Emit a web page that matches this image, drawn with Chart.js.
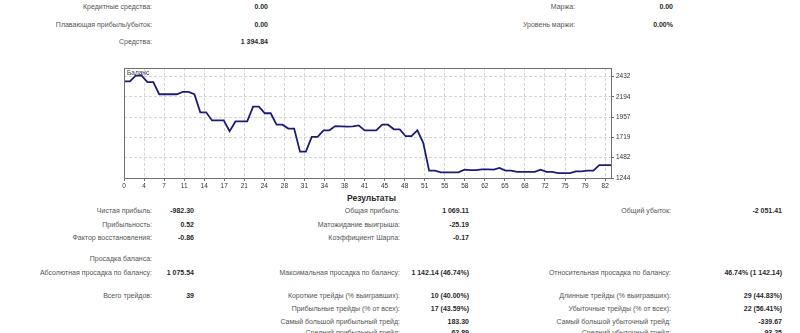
<!DOCTYPE html>
<html>
<head>
<meta charset="utf-8">
<script src="https://cdn.jsdelivr.net/npm/chart.js@4.4.0/dist/chart.umd.min.js"></script>
<style>
body{margin:0;width:800px;height:333px;background:#fff;position:relative;overflow:hidden;font-family:"Liberation Sans",Arial,sans-serif;}
.t{position:absolute;white-space:nowrap;font-size:7px;line-height:10px;color:#555;text-align:right;}
.v{font-weight:bold;color:#2a2a2a;}
.h{position:absolute;font-size:8.5px;font-weight:bold;color:#2a2a2a;line-height:10px;}
#box{position:absolute;left:120px;top:62px;width:520px;height:130px;}
</style>
</head>
<body>
<div id="box"><canvas id="myChart" width="520" height="130"></canvas></div>
<div class="h" style="left:347px;top:193px;">Результаты</div>
<script>
// balance curve, one value per trade
let balance = [2377, 2377, 2444, 2444, 2368, 2368, 2226, 2226, 2226, 2226,
  2253, 2253, 2226, 2014, 2014, 1919, 1919, 1919, 1792, 1907,
  1907, 1907, 2080, 2080, 2003, 2003, 1869, 1869, 1823, 1823,
  1553, 1553, 1726, 1726, 1803, 1803, 1853, 1849, 1846, 1849,
  1861, 1803, 1803, 1803, 1869, 1869, 1815, 1815, 1734, 1734,
  1803, 1657, 1330, 1330, 1311, 1311, 1311, 1311, 1342, 1336,
  1336, 1345, 1345, 1342, 1362, 1330, 1330, 1315, 1315, 1315,
  1315, 1342, 1315, 1315, 1302, 1302, 1302, 1322, 1322, 1330,
  1330, 1395, 1395, 1395];
let xLabels = ['0', '4', '7', '11', '14', '17', '21', '24', '28', '31', '34', '38', '41', '45', '48', '51', '55', '58', '62', '65', '68', '72', '75', '79', '82'];
let yTicks = [1244, 1482, 1719, 1957, 2194, 2432];

// report rows: label, value, right edge of label, right edge of value, y
let topRows = [
  ['Кредитные средства:', '0.00', 152, 268, 7],
  ['Плавающая прибыль/убыток:', '0.00', 152, 268, 25],
  ['Средства:', '1 394.84', 152, 268, 42],
  ['Маржа:', '0.00', 575, 673, 7],
  ['Уровень маржи:', '0.00%', 575, 673, 25]
];
let resRows = [
  ['Чистая прибыль:', '-982.30', 152, 194, 211],
  ['Прибыльность:', '0.52', 152, 194, 225],
  ['Фактор восстановления:', '-0.86', 152, 194, 238],
  ['Просадка баланса:', '', 152, 194, 259],
  ['Абсолютная просадка по балансу:', '1 075.54', 152, 194, 273],
  ['Всего трейдов:', '39', 152, 194, 296],
  ['Общая прибыль:', '1 069.11', 400, 469, 211],
  ['Матожидание выигрыша:', '-25.19', 400, 469, 225],
  ['Коэффициент Шарпа:', '-0.17', 400, 469, 238],
  ['Максимальная просадка по балансу:', '1 142.14 (46.74%)', 400, 469, 273],
  ['Короткие трейды (% выигравших):', '10 (40.00%)', 400, 469, 296],
  ['Прибыльные трейды (% от всех):', '17 (43.59%)', 400, 469, 309],
  ['Самый большой прибыльный трейд:', '183.30', 400, 469, 322],
  ['Средний прибыльный трейд:', '62.89', 400, 469, 333],
  ['Общий убыток:', '-2 051.41', 671, 782, 211],
  ['Относительная просадка по балансу:', '46.74% (1 142.14)', 671, 782, 273],
  ['Длинные трейды (% выигравших):', '29 (44.83%)', 671, 782, 296],
  ['Убыточные трейды (% от всех):', '22 (56.41%)', 671, 782, 309],
  ['Самый большой убыточный трейд:', '-339.67', 671, 782, 322],
  ['Средний убыточный трейд:', '-93.25', 671, 782, 333]
];

function put(text, right, y, cls){
  let el = document.createElement('div');
  el.className = cls;
  el.textContent = text;
  el.style.right = (800 - right) + 'px';
  el.style.top = (y - 5) + 'px';
  document.body.appendChild(el);
}
let allRows = topRows.concat(resRows);
for (let i = 0; i < allRows.length; i++) {
  put(allRows[i][0], allRows[i][2], allRows[i][4], 't');
  if (allRows[i][1] !== '') {
    put(allRows[i][1], allRows[i][3], allRows[i][4], 't v');
  }
}

let points = balance.map((v, i) => ({x: i, y: v}));

let framePlugin = {
  id: 'frame',
  afterDraw(chart){
    let a = chart.chartArea;
    let ctx = chart.ctx;
    ctx.save();
    ctx.strokeStyle = '#707070';
    ctx.lineWidth = 1;
    ctx.strokeRect(Math.round(a.left) + 0.5, Math.round(a.top) + 0.5, Math.round(a.right - a.left), Math.round(a.bottom - a.top));
    ctx.fillStyle = '#333';
    ctx.font = '6.5px "Liberation Sans", Arial';
    ctx.textBaseline = 'top';
    ctx.fillText('Баланс', a.left + 3, a.top + 2);
    ctx.restore();
  }
};

let ctx = document.getElementById('myChart').getContext('2d');
let myChart = new Chart(ctx, {
  type: 'line',
  data: {
    datasets: [{
      label: 'Баланс',
      data: points,
      borderColor: '#1c1c78',
      borderWidth: 1.8,
      pointRadius: 0,
      tension: 0
    }]
  },
  options: {
    responsive: false,
    animation: false,
    events: [],
    layout: {padding: {left: 4, top: 4, right: 0, bottom: 0}},
    plugins: {legend: {display: false}, tooltip: {enabled: false}},
    scales: {
      x: {
        type: 'linear',
        min: 0,
        max: 83,
        afterBuildTicks: (axis) => { axis.ticks = xLabels.map((l, i) => ({value: i * 82 / 24})); },
        afterFit: (axis) => { axis.height = 14; },
        ticks: {
          autoSkip: false,
          maxRotation: 0,
          padding: 1,
          color: '#333',
          font: {size: 6.5, family: 'Liberation Sans'},
          callback: (val, idx) => xLabels[idx]
        },
        grid: {color: '#d4d4d4', tickLength: 3, tickColor: '#707070'},
        border: {display: false, dash: [3, 2]}
      },
      y: {
        position: 'right',
        min: 1244,
        max: 2535,
        afterBuildTicks: (axis) => { axis.ticks = yTicks.map(v => ({value: v})); },
        afterFit: (axis) => { axis.width = 29; },
        ticks: {
          padding: 2,
          color: '#333',
          font: {size: 6.5, family: 'Liberation Sans'},
          callback: (val) => String(Math.round(val))
        },
        grid: {color: '#d4d4d4', tickLength: 3, tickColor: '#707070'},
        border: {display: false, dash: [3, 2]}
      }
    }
  },
  plugins: [framePlugin]
});
</script>
</body>
</html>
